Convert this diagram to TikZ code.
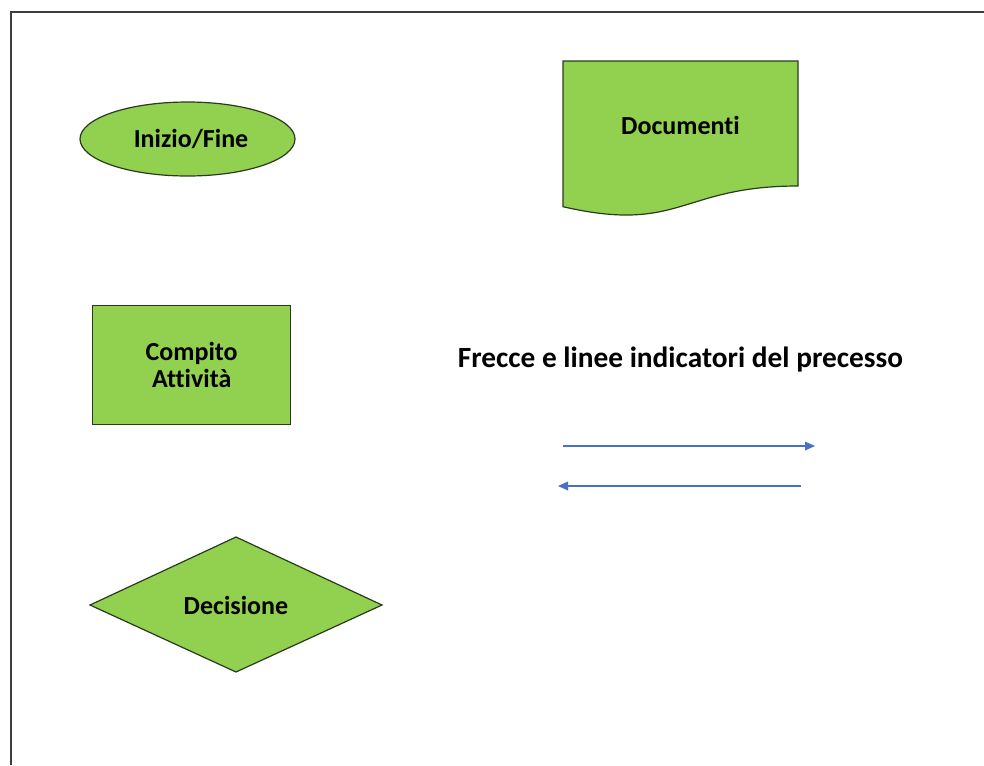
\documentclass[tikz,border=0pt]{standalone}
\usepackage{fontspec}
\setmainfont[Ligatures=NoCommon]{Carlito}
\usetikzlibrary{shapes.geometric,arrows.meta}
\definecolor{shapegreen}{HTML}{92D050}
\definecolor{shapeline}{HTML}{2A3A1E}
\definecolor{flowblue}{HTML}{4472C4}
\definecolor{framegray}{HTML}{3A3D44}
\tikzset{
  shapebox/.style={fill=shapegreen, draw=shapeline, line width=0.9pt, inner sep=0pt},
  lbl/.style={font=\fontsize{19.5}{20.8}\selectfont\bfseries, text=black, align=center},
  flowarrow/.style={draw=flowblue, line width=0.9pt, -{Triangle[length=7.5pt,width=6.5pt]}},
}
\begin{document}
\begin{tikzpicture}[x=0.75pt,y=-0.75pt]
\useasboundingbox (0,0) rectangle (984,765);
% page frame
\draw[framegray, line width=1.8pt] (11,765) -- (11,12) -- (984,12);

% terminator
\node[shapebox, ellipse, minimum width=215*0.75pt, minimum height=74*0.75pt] (start) at (187.5,139) {};
\node[lbl] (startlbl) at ([xshift=3.5*0.75pt]start.center) {Inizio/Fine};

% document
\draw[shapebox] (563,61) -- (798,61) -- (798,186)
  .. controls (680.5,186) and (680.5,233.8) .. (563,206.7) -- cycle;
\node[lbl] (doc) at (680.5,125) {Documenti};

% process
\node[shapebox, rectangle, minimum width=198*0.75pt, minimum height=118.5*0.75pt] (task) at (191.7,365) {};
\node[lbl] (tasklbl) at (task.center) {Compito\\Attività};

% decision
\draw[shapebox] (90,605) -- (236,537) -- (382,605) -- (236,672) -- cycle;
\node[lbl] (dec) at (236,605) {Decisione};

% flow lines caption
\node[font=\fontsize{22}{26}\selectfont\bfseries] (title) at (680.5,360) {Frecce e linee indicatori del precesso};

% sample connectors
\coordinate (a1) at (563,446);
\coordinate (a2) at (815,446);
\coordinate (b1) at (801,486);
\coordinate (b2) at (558,486);
\draw[flowarrow] (a1) -- (a2);
\draw[flowarrow] (b1) -- (b2);
\end{tikzpicture}
\end{document}
